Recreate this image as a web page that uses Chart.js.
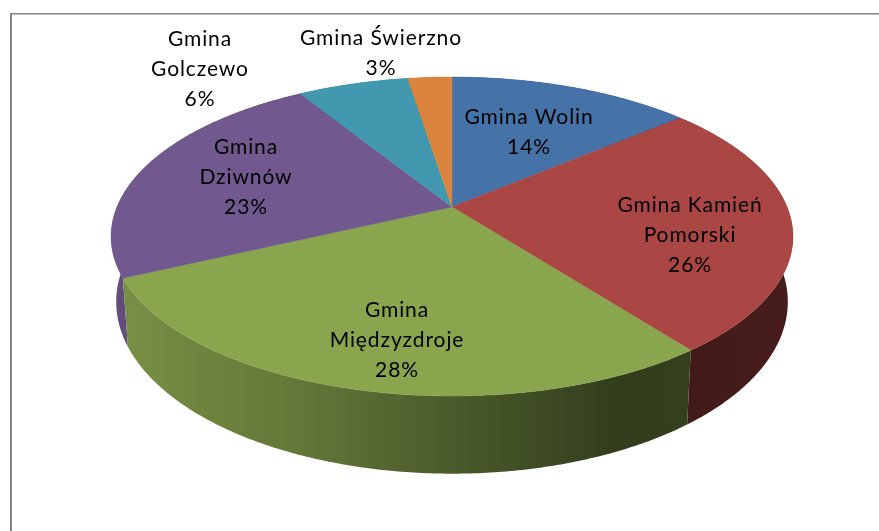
<!DOCTYPE html>
<html>
<head>
<meta charset="utf-8">
<title>Gminy</title>
<script src="https://cdn.jsdelivr.net/npm/chart.js@4/dist/chart.umd.js"></script>
<style>
  html, body { margin: 0; padding: 0; background: #fff; }
  #wrap { width: 879px; height: 531px; }
</style>
</head>
<body>
<div id="wrap"><canvas id="chart" width="879" height="531"></canvas></div>
<script>
const categories = ['Gmina Wolin', 'Gmina Kamień Pomorski', 'Gmina Międzyzdroje', 'Gmina Dziwnów', 'Gmina Golczewo', 'Gmina Świerzno'];
const shares = [13.8, 25.8, 28.4, 23.2, 6.3, 2.5];
const sliceColors = ['#4572a7', '#aa4643', '#89a54e', '#71588f', '#4198af', '#db843d'];

// label lines and centre of the text block, one per slice
const labelLines = [['Gmina Wolin'], ['Gmina Kamień', 'Pomorski'], ['Gmina', 'Międzyzdroje'], ['Gmina', 'Dziwnów'], ['Gmina', 'Golczewo'], ['Gmina Świerzno']];
const labelCentres = [[529, 132], [690, 235], [397, 340], [246, 177], [200, 69], [381, 53]];

// perspective of the tilted disc, k shrinks the far side
const K = 0.185;
const topFace = { cx: 452, cy: 207, rx: 335, ry: 154 };
const bottomFace = { cx: 452, cy: 270, rx: 330, ry: 166 };

// wall shade by x position, fraction of the slice colour
const wallShade = [[111, 0.88], [300, 0.72], [450, 0.55], [620, 0.37], [690, 0.38], [793, 0.42]];

function project(face, angle) {
  const x = Math.cos(angle), y = Math.sin(angle);
  const d = 1 - K * y;
  return [face.cx + face.rx * x / d, face.cy + face.ry * y / d];
}

function shade(hex, f) {
  const n = parseInt(hex.slice(1), 16);
  return `rgb(${((n >> 16) & 255) * f}, ${((n >> 8) & 255) * f}, ${(n & 255) * f})`;
}

function rim(ctx, face, from, to) {
  const steps = Math.max(2, Math.ceil(Math.abs(to - from) / 0.01));
  for (let i = 0; i <= steps; i++) {
    const p = project(face, from + (to - from) * i / steps);
    ctx.lineTo(p[0], p[1]);
  }
}

const pie3d = {
  id: 'pie3d',
  beforeDraw(chart) {
    const ctx = chart.ctx;
    ctx.save();
    ctx.fillStyle = '#fff';
    ctx.fillRect(0, 0, chart.width, chart.height);
    // frame is cut off at the right and bottom
    ctx.fillStyle = '#868686';
    ctx.fillRect(10, 13, 2, 518);
    ctx.fillRect(10, 13, 869, 1.5);
    ctx.restore();
  },
  beforeDatasetDraw(chart) {
    const ctx = chart.ctx;
    const arcs = chart.getDatasetMeta(0).data;
    ctx.save();

    // walls, far slices first so the near ones cover them
    const order = arcs.map((a, i) => i).sort((a, b) =>
      Math.sin((arcs[a].startAngle + arcs[a].endAngle) / 2) - Math.sin((arcs[b].startAngle + arcs[b].endAngle) / 2));
    order.forEach(i => {
      const arc = arcs[i];
      const grad = ctx.createLinearGradient(111, 0, 793, 0);
      wallShade.forEach(s => grad.addColorStop((s[0] - 111) / (793 - 111), shade(sliceColors[i], s[1])));
      ctx.beginPath();
      rim(ctx, topFace, arc.startAngle, arc.endAngle);
      rim(ctx, bottomFace, arc.endAngle, arc.startAngle);
      ctx.closePath();
      ctx.fillStyle = grad;
      ctx.fill();
    });

    // top faces
    arcs.forEach((arc, i) => {
      ctx.beginPath();
      ctx.moveTo(topFace.cx, topFace.cy);
      rim(ctx, topFace, arc.startAngle, arc.endAngle);
      ctx.closePath();
      ctx.fillStyle = sliceColors[i];
      ctx.strokeStyle = sliceColors[i];
      ctx.lineWidth = 0.5;
      ctx.fill();
      ctx.stroke();
    });

    // labels
    const total = shares.reduce((a, b) => a + b, 0);
    ctx.fillStyle = '#000';
    ctx.font = '21px Lato';
    ctx.letterSpacing = '0.9px';
    ctx.textAlign = 'center';
    ctx.textBaseline = 'middle';
    labelLines.forEach((lines, i) => {
      const rows = lines.concat(Math.round(shares[i] / total * 100) + '%');
      const top = labelCentres[i][1] - (rows.length - 1) * 15;
      rows.forEach((row, r) => ctx.fillText(row, labelCentres[i][0], top + r * 30));
    });
    ctx.restore();
    return false;
  }
};

new Chart(document.getElementById('chart').getContext('2d'), {
  type: 'pie',
  data: {
    labels: categories,
    datasets: [{ data: shares, backgroundColor: sliceColors, borderWidth: 0 }],
  },
  options: {
    responsive: false,
    animation: false,
    plugins: { legend: { display: false }, tooltip: { enabled: false } },
  },
  plugins: [pie3d],
});
</script>
</body>
</html>
